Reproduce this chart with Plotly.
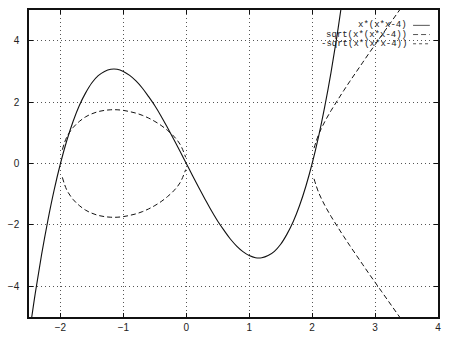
import plotly.graph_objects as go

# ---- data ----
x_cubic = [-2.5, -2.4, -2.3, -2.2, -2.1, -2.0, -1.9, -1.8, -1.7, -1.6, -1.5, -1.4, -1.3, -1.2,
           -1.1, -1.0, -0.9, -0.8, -0.7, -0.6, -0.5, -0.4, -0.3, -0.2, -0.1, 0.0, 0.1, 0.2,
           0.3, 0.4, 0.5, 0.6, 0.7, 0.8, 0.9, 1.0, 1.1, 1.2, 1.3, 1.4, 1.5, 1.6, 1.7, 1.8,
           1.9, 2.0, 2.1, 2.2, 2.3, 2.4, 2.5, 2.6]
y_cubic = [-5.63, -4.22, -2.97, -1.85, -0.86, 0.0, 0.74, 1.37, 1.89, 2.30, 2.63, 2.86, 3.00, 3.07,
           3.07, 3.00, 2.87, 2.69, 2.46, 2.18, 1.88, 1.54, 1.17, 0.79, 0.40, 0.0, -0.40, -0.79,
           -1.17, -1.54, -1.88, -2.18, -2.46, -2.69, -2.87, -3.00, -3.07, -3.07, -3.00, -2.86, -2.63, -2.30, -1.89, -1.37,
           -0.74, 0.0, 0.86, 1.85, 2.97, 4.22, 5.63, 7.18]

# sqrt branch: left loop and right branch (None separates the pieces)
x_sqrt = [-1.97, -1.9, -1.8, -1.7, -1.6, -1.5, -1.4, -1.3, -1.2, -1.1, -1.0, -0.9, -0.8, -0.7,
          -0.6, -0.5, -0.4, -0.3, -0.2, -0.1, -0.01, None,
          2.03, 2.1, 2.2, 2.3, 2.4, 2.5, 2.6, 2.7, 2.8, 2.9, 3.0, 3.1, 3.2, 3.3, 3.4, 3.5]
y_sqrt_pos = [0.45, 0.86, 1.17, 1.37, 1.52, 1.62, 1.69, 1.73, 1.75, 1.75, 1.73, 1.69, 1.64, 1.57,
              1.48, 1.37, 1.24, 1.08, 0.89, 0.63, 0.20, None,
              0.50, 0.93, 1.36, 1.72, 2.05, 2.37, 2.68, 2.98, 3.28, 3.58, 3.87, 4.16, 4.45, 4.74, 5.03, 5.32]
y_sqrt_neg = [-0.45, -0.86, -1.17, -1.37, -1.52, -1.62, -1.69, -1.73, -1.75, -1.75, -1.73, -1.69, -1.64, -1.57,
              -1.48, -1.37, -1.24, -1.08, -0.89, -0.63, -0.20, None,
              -0.50, -0.93, -1.36, -1.72, -2.05, -2.37, -2.68, -2.98, -3.28, -3.58, -3.87, -4.16, -4.45, -4.74, -5.03, -5.32]

legend_labels = ["x*(x*x-4)", "sqrt(x*(x*x-4))", "-sqrt(x*(x*x-4))"]
legend_dashes = ["solid", "5px,3px", "3px,3px"]

x_ticks = [-2, -1, 0, 1, 2, 3, 4]
y_ticks = [-4, -2, 0, 2, 4]

fig = go.Figure()
fig.add_trace(go.Scatter(x=x_cubic, y=y_cubic, mode="lines", line=dict(color="#111", width=1.1, dash=legend_dashes[0]),
                         line_shape="spline", name=legend_labels[0]))
fig.add_trace(go.Scatter(x=x_sqrt, y=y_sqrt_pos, mode="lines", line=dict(color="#111", width=1.0, dash=legend_dashes[1]),
                         line_shape="spline", name=legend_labels[1]))
fig.add_trace(go.Scatter(x=x_sqrt, y=y_sqrt_neg, mode="lines", line=dict(color="#111", width=1.0, dash=legend_dashes[1]),
                         line_shape="spline", name=legend_labels[2]))

# gnuplot-style legend: right-aligned text followed by a line sample
rows_y = [0.950, 0.920, 0.890]
for lab, dash, yy in zip(legend_labels, legend_dashes, rows_y):
    fig.add_annotation(x=0.928, y=yy, xref="paper", yref="paper", text=lab, showarrow=False,
                       xanchor="right", yanchor="middle",
                       font=dict(family="Liberation Mono", size=9, color="#222"))
    fig.add_shape(type="line", xref="paper", yref="paper", x0=0.939, x1=0.980, y0=yy, y1=yy,
                  line=dict(color="#555", width=1, dash=dash))

axis_common = dict(showline=True, linecolor="#111", linewidth=1.5, mirror="ticks",
                   ticks="inside", ticklen=4, tickcolor="#111",
                   showgrid=True, gridcolor="#555", griddash="1px,3px", gridwidth=1,
                   zeroline=False,
                   tickfont=dict(family="Liberation Sans", size=10, color="#222"))

fig.update_layout(
    width=450, height=341,
    margin=dict(l=28, r=12, t=8, b=20),
    paper_bgcolor="white", plot_bgcolor="white",
    showlegend=False,
    xaxis=dict(range=[-2.5, 4], tickvals=x_ticks, ticktext=[("\u2212" + str(-v)) if v < 0 else str(v) for v in x_ticks],
               **axis_common),
    yaxis=dict(range=[-5, 5], tickvals=y_ticks, ticktext=[("\u2212" + str(-v)) if v < 0 else str(v) for v in y_ticks],
               ticklabelstandoff=6, **axis_common),
)

fig.write_html("out.html")
